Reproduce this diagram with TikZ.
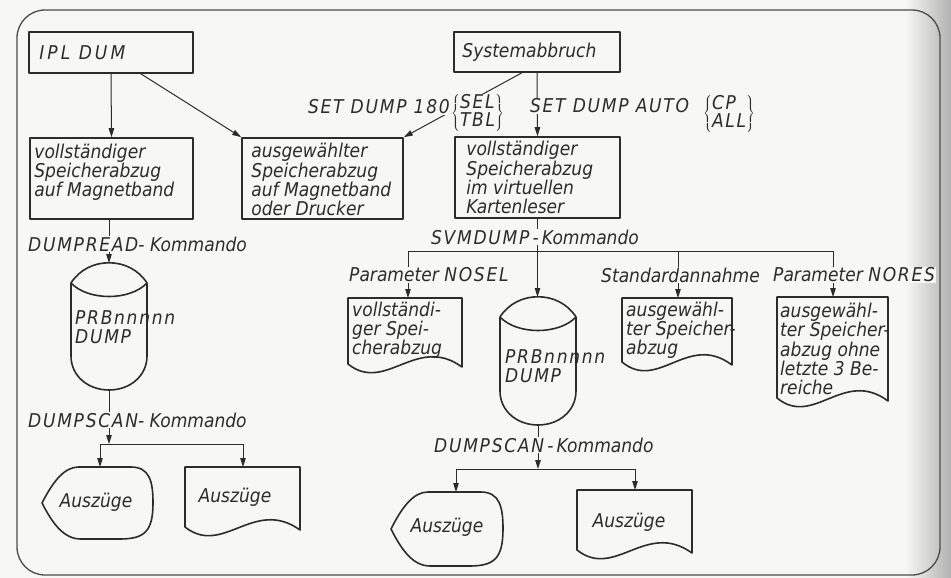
\documentclass[tikz,border=0pt]{standalone}
\usepackage{fontspec}
\setmainfont{DejaVu Sans Condensed}
\usetikzlibrary{calc,arrows.meta}
\definecolor{ink}{HTML}{2C2C2C}
\definecolor{paper}{HTML}{F7F7F5}
\newcommand\wc[1]{{\addfontfeature{LetterSpace=9}#1}}

% document symbol: name, x0, top, w, h
\newcommand\mydoc[5]{%
  \draw[shp] (#2,{#3+#5}) -- (#2,#3) -- ({#2+#4},#3) -- ({#2+#4},{#3+#5+3})
     .. controls ({#2+0.6*#4},{#3+#5-30}) and ({#2+0.33*#4},{#3+#5+30}) .. cycle;
  \node[hold, minimum width={#4*1pt}, minimum height={#5*1pt}] (#1) at ({#2+#4/2},{#3+#5/2}) {};
}
% storage cylinder: name, cx, rx, top, bottom
\newcommand\mycyl[5]{%
  \draw[shp] ({#2-#3},{#4+20}) .. controls ({#2-0.55*#3},{#4-7}) and ({#2+0.55*#3},{#4-7}) .. ({#2+#3},{#4+20})
     -- ({#2+#3},{#5-34}) .. controls ({#2+#3},{#5-14}) and ({#2+0.55*#3},#5) .. (#2,#5)
     .. controls ({#2-0.55*#3},#5) and ({#2-#3},{#5-14}) .. ({#2-#3},{#5-34}) -- cycle;
  \draw[shp] ({#2-#3},{#4+20}) .. controls ({#2-0.55*#3},{#4+38}) and ({#2+0.55*#3},{#4+38}) .. ({#2+#3},{#4+20});
  \node[hold, minimum width={2*#3*1pt}, minimum height={(#5-#4)*1pt}] (#1) at (#2,{(#4+#5)/2}) {};
}
% display symbol: name, xl, xr, top, bottom
\newcommand\mydisp[5]{%
  \pgfmathsetmacro\dspw{#3-#2}\pgfmathsetmacro\dsph{#5-#4}\pgfmathsetmacro\dspm{(#4+#5)/2}%
  \draw[shp] (#2,\dspm) .. controls ({#2+0.1*\dspw},{\dspm-0.3*\dsph}) and ({#2+0.2*\dspw},#4) .. ({#2+0.33*\dspw},#4)
     -- ({#2+0.8*\dspw},#4) .. controls ({#3-0.03*\dspw},#4) and (#3,{\dspm-0.3*\dsph}) .. (#3,\dspm)
     .. controls (#3,{\dspm+0.4*\dsph}) and ({#3-0.08*\dspw},#5) .. ({#2+0.7*\dspw},#5)
     -- ({#2+0.35*\dspw},#5) .. controls ({#2+0.2*\dspw},#5) and ({#2+0.1*\dspw},{\dspm+0.3*\dsph}) .. cycle;
  \node[hold, minimum width={\dspw*1pt}, minimum height={\dsph*1pt}] (#1) at ({(#2+#3)/2},\dspm) {};
}

\begin{document}
\begin{tikzpicture}[x=1pt,y=-1pt,
  font=\itshape\fontsize{19}{19.2}\selectfont,
  shp/.style={draw=ink, line width=1.6pt, line join=round},
  box/.style={shp, rectangle, inner sep=0},
  hold/.style={inner sep=0, outer sep=0, draw=none},
  conn/.style={draw=ink, line width=1pt},
  arr/.style={conn, -{Triangle[length=9pt,width=5.5pt]}},
  lbl/.style={fill=paper, inner sep=1pt, text=ink, anchor=west},
  txt/.style={inner sep=0, align=left, anchor=north west, text=ink}]
\useasboundingbox (0,0) rectangle (951,578);
\fill[paper] (0,0) rectangle (951,578);
\shade[left color=paper, right color=gray!60] (905,0) rectangle (951,578);
\draw[ink!85, line width=1.3pt, rounded corners=28pt] (17,10) rectangle (940,575);

% boxes
\node[box, minimum width=164pt, minimum height=41pt] (ipl) at (111,52.5) {};
\node[txt, anchor=west] (iplt) at ($(ipl.west)+(11,0)$) {{\addfontfeature{LetterSpace=16}IPL DUM}};
\node[box, minimum width=166pt, minimum height=40pt] (sys) at (537,52) {};
\node[txt, anchor=west] (syst) at ($(sys.west)+(9,0)$) {Systemabbruch};
\node[box, minimum width=163pt, minimum height=81pt] (vollL) at (111.5,178.5) {};
\node[txt] (vollLt) at ($(vollL.north west)+(5,6.5)$) {vollständiger\\Speicherabzug\\auf Magnetband};
\node[box, minimum width=161pt, minimum height=81pt] (ausg) at (322.5,178.5) {};
\node[txt] (ausgt) at ($(ausg.north west)+(10,6)$) {ausgewählter\\Speicherabzug\\auf Magnetband\\oder Drucker};
\node[box, minimum width=165pt, minimum height=81pt] (vollR) at (537.5,177.5) {};
\node[txt] (vollRt) at ($(vollR.north west)+(12,5)$) {vollständiger\\Speicherabzug\\im virtuellen\\Kartenleser};

% storage symbols
\mycyl{cylL}{109}{38}{263}{390}
\node[txt] (cylLt) at (75,310) {\wc{PRBnnnnn}\\\wc{DUMP}};
\mycyl{cylR}{538}{38}{297}{425}
\node[txt] (cylRt) at (505,349) {\wc{PRBnnnnn}\\\wc{DUMP}};

% documents
\mydoc{docL}{185}{467}{115}{60}
\node[text=ink] (docLt) at (235,497) {Auszüge};
\mydoc{docNosel}{348}{298}{114}{66}
\node[txt] (docNoselt) at (352,301.5) {vollständi-\\ger Spei-\\cherabzug};
\mydoc{docStd}{622}{298}{110}{64}
\node[txt] (docStdt) at (626,301.5) {ausgewähl-\\ter Speicher-\\abzug};
\mydoc{docNores}{777}{297}{111}{101}
\node[txt] (docNorest) at (780,303) {ausgewähl-\\ter Speicher-\\abzug ohne\\letzte 3 Be-\\reiche};
\mydoc{docR}{577}{490}{115}{60}
\node[text=ink] (docRt) at (629,522) {Auszüge};

% displays
\mydisp{dispL}{42}{153}{467}{539}
\node[text=ink] (dispLt) at (96,502) {Auszüge};
\mydisp{dispR}{391}{503}{492}{566}
\node[text=ink] (dispRt) at (447,527) {Auszüge};

% branch points
\coordinate (brL) at (109,444);
\coordinate (brLl) at (100,444);
\coordinate (brLr) at (243,444);
\coordinate (brM) at (537.5,251);
\coordinate (brMa) at (408,251);
\coordinate (brMc) at (678,251);
\coordinate (brMd) at (833,251);
\coordinate (brR) at (538,469);
\coordinate (brRl) at (456,469);
\coordinate (brRr) at (635,469);

% connectors
\draw[arr] (ipl.south) -- (vollL.north);
\draw[arr] ($(ipl.south west)!0.68!(ipl.south east)$) -- (ausg.north west);
\draw[arr] ($(sys.south west)!0.41!(sys.south east)$) -- (ausg.north east);
\draw[arr] (sys.south) -- (vollR.north);
\draw[arr] (vollL.south -| cylL.north) -- (cylL.north);
\draw[arr] (cylL.south) -- (brL);
\draw[conn] (brLl) -- (brLr);
\draw[arr] (brLl) -- (brLl |- dispL.north);
\draw[arr] (brLr) -- (brLr |- docL.north);
\draw[arr] (vollR.south) -- (vollR.south |- cylR.north);
\draw[conn] (brMa) -- (brMd);
\draw[arr] (brMa) -- (brMa |- docNosel.north);
\draw[arr] (brMc) -- (brMc |- docStd.north);
\draw[arr] (brMd) -- (brMd |- docNores.north);
\draw[arr] (cylR.south) -- (brR);
\draw[conn] (brRl) -- (brRr);
\draw[arr] (brRl) -- (brRl |- dispR.north);
\draw[arr] (brRr) -- (brRr |- docR.north);

% labels
\node[lbl, anchor=east] (set180) at (451,107) {\wc{SET DUMP 180}};
\node[lbl, inner sep=0] (selb) at (451,113) {\renewcommand\arraystretch{0.82}$\left\{\vcenter{\hbox{\begin{tabular}{@{}l@{}}\wc{SEL}\\\wc{TBL}\end{tabular}}}\right\}$};
\node[lbl] (setauto) at (529,106) {\wc{SET DUMP AUTO}};
\node[lbl, inner sep=0] (cpb) at (703,114) {\renewcommand\arraystretch{0.82}$\left\{\vcenter{\hbox{\begin{tabular}{@{}l@{}}\wc{CP}\\\wc{ALL}\end{tabular}}}\right\}$};
\node[lbl] (dread) at (27,244) {\wc{DUMPREAD}- Kommando};
\node[lbl] (dscanL) at (27,420) {\wc{DUMPSCAN}- Kommando};
\node[lbl] (svm) at (430,237) {\wc{SVMDUMP}\,-\,Kommando};
\node[lbl] (nosel) at (348,275) {Parameter \wc{NOSEL}};
\node[lbl] (stdann) at (600,275) {Standardannahme};
\node[lbl] (nores) at (772,275) {Parameter \wc{NORES}};
\node[lbl] (dscanR) at (433,445) {\wc{DUMPSCAN}\,-\,Kommando};
\end{tikzpicture}
\end{document}
